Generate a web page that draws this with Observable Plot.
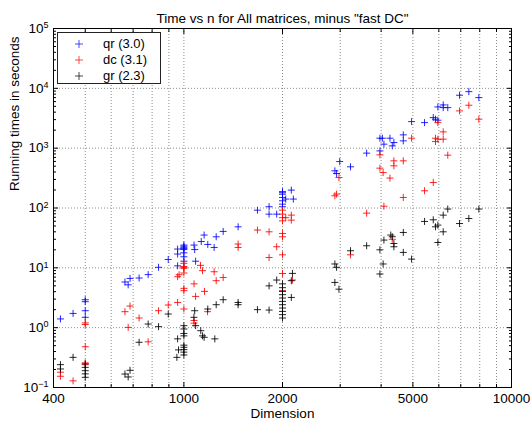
<!DOCTYPE html>
<html><head><meta charset="utf-8">
<script src="https://cdn.jsdelivr.net/npm/d3@7"></script>
<script src="https://cdn.jsdelivr.net/npm/@observablehq/plot@0.6"></script>
<style>
body{margin:0;background:#fff;}
#wrap{position:relative;width:530px;height:422px;font-family:"Liberation Sans",Arial,sans-serif;}
#legend{position:absolute;left:57px;top:32px;width:104px;height:52px;box-sizing:border-box;border:1px solid #222;background:#fff;font-size:13px;color:#000;}
.row{position:absolute;left:0;height:16px;line-height:16px;white-space:nowrap;}
.row svg{position:absolute;left:16px;top:3px;}
.row span{position:absolute;left:45px;top:0;}
</style></head><body><div id="wrap"></div><script>
const title = 'Time vs n for All matrices, minus "fast DC"';
const xLabel = "Dimension";
const yLabel = "Running times in seconds";
const xTicks = [400, 1000, 2000, 5000, 10000];
const xMinor = [500, 600, 700, 800, 900, 3000, 4000, 6000, 7000, 8000, 9000];
const xGrid = [500, 600, 700, 800, 900, 1000, 2000, 3000, 4000, 5000, 6000, 7000, 8000, 9000];
const yTicks = [0.1, 1, 10, 100, 1000, 10000, 100000];
const seriesNames = ["qr (3.0)", "dc (3.1)", "gr (2.3)"];
const seriesColors = ["#0000ff", "#ff0000", "#000000"];

const qrN = [420,459,500,500,500,500,661,676,685,730,778,837,896,957,957,957,
  1000,1000,1000,1000,1000,1000,1000,1000,1074,1079,1086,1130,1153,1183,1237,1255,
  1318,1464,1677,1820,1820,1920,2000,2000,2000,2000,2000,2000,2000,2046,2128,2158,
  2890,2925,2990,3226,3613,3966,3966,4035,4079,4256,4326,4375,4674,4674,4955,5428,
  5770,5862,5960,5960,6188,6188,6390,6940,7409,7950];
const qrT = [1.40,1.73,2.93,2.72,1.92,1.49,5.8,5.2,6.65,6.76,7.7,10.2,13.8,20.6,17,10.8,
  24,23,22,21,20.2,17.8,15.3,12.9,24,20.2,12.9,27.5,35.3,24.6,21.9,33,
  40.6,48.5,92,105,79,79,188,180,170,150,132,116,105,141,199,141,
  418,377,597,488,826,901,1468,1468,1166,1468,1092,1241,1668,1325,2780,2674,
  3243,3048,2930,4890,5280,4760,4760,7670,8810,7000];

const dcN = [420,420,459,500,500,500,500,500,661,685,676,730,778,837,896,957,957,967,
  1000,1000,1000,1000,1000,1000,1000,1000,1124,1140,1237,1255,1318,1074,1086,1156,1181,1074,1074,
  1464,1464,1677,1820,1920,1820,2000,2000,2000,2000,2000,2000,2000,2000,2000,
  2046,2128,2128,2145,2925,2974,2890,3226,3613,3966,3966,4057,4079,4256,4326,4375,4375,
  4674,4674,4955,5428,5770,5862,5862,5960,5960,6188,6188,6390,6940,7409,7950];
const dcT = [0.18,0.154,0.129,1.2,1.13,0.48,0.258,0.241,1.85,2.3,1.01,1.45,0.58,1.92,2.39,2.64,7.1,7.67,
  11.9,10.5,10.2,9.8,8.2,4.54,4.15,2.05,11,8.96,8.6,6.1,6.9,5.4,3.33,4.04,1.85,1.32,1.19,
  25,21.9,42.8,40,22.5,14.9,92,79,69,61,37.5,33,16.5,8.05,4.15,
  69,76,62.7,6.25,171,323,160,16.5,82,773,463,391,107,316,30,614,507,
  614,150,1468,194,267,1468,1290,2674,1413,1872,1413,764,4200,5220,3050];

const grN = [420,420,459,500,500,500,500,500,661,676,685,730,778,837,896,957,963,952,
  1000,1000,1000,1000,1000,1000,1000,1000,1000,1079,1073,1086,1183,1255,1126,1140,1153,1243,
  1318,1464,1464,1677,1820,1820,1920,2000,2000,2000,2000,2000,2000,2000,2000,2000,2000,2000,
  2145,2128,2128,2890,2890,2925,2974,3226,3613,3966,3966,4079,4057,4280,4326,4375,4375,
  4674,4674,4955,5428,5770,5862,5960,5960,6188,6188,6390,6940,7409,7950];
const grT = [0.241,0.204,0.319,0.248,0.217,0.191,0.169,0.148,0.168,0.15,0.194,0.57,1.15,1.04,1.69,0.65,0.425,0.319,
  1.08,0.95,0.80,0.73,0.51,0.47,0.43,0.39,0.35,1.92,1.49,1.08,2.05,2.42,0.89,0.73,0.69,0.65,
  2.93,2.64,2.42,2.0,1.97,5.0,6.25,5.4,4.66,4.04,3.56,3.13,2.75,2.42,2.13,1.87,1.65,1.45,
  8.07,6.1,3.2,11.6,5.7,10.2,4.4,19.3,23.4,20,7.9,29.1,11.6,35.3,33.1,25.5,22.5,
  39,18.1,14,59.6,63.5,48.5,51.8,26.5,76,40,96,55,66.8,96];

const seriesN = [qrN, dcN, grN];
const seriesT = [qrT, dcT, grT];
const rows = [];
seriesN.forEach((ns, s) => ns.forEach((n, i) => rows.push({series: seriesNames[s], n, t: seriesT[s][i]})));

const yMinor = [];
for (let e = -1; e < 5; e++) for (let k = 2; k <= 9; k++) yMinor.push(k * Math.pow(10, e));

const plus = {draw(ctx, size) {const r = Math.sqrt(size / Math.PI); ctx.moveTo(-r, 0); ctx.lineTo(r, 0); ctx.moveTo(0, -r); ctx.lineTo(0, r);}};
const blank = () => "";

const chart = Plot.plot({
  width: 530, height: 422,
  marginLeft: 53, marginRight: 19, marginTop: 28, marginBottom: 35,
  style: {fontFamily: '"Liberation Sans", Arial, sans-serif', fontSize: "13px", background: "#fff", color: "#000"},
  x: {type: "log", domain: [400, 10000]},
  y: {type: "log", domain: [0.1, 100000]},
  color: {domain: seriesNames, range: seriesColors},
  marks: [
    Plot.ruleX(xGrid, {stroke: "#8c8c8c", strokeDasharray: "1,2"}),
    Plot.ruleY(yTicks.slice(1, -1), {stroke: "#8c8c8c", strokeDasharray: "1,2"}),
    Plot.dot(rows, {x: "n", y: "t", stroke: "series", fill: "none", symbol: plus, r: 3.5, strokeWidth: 1, strokeOpacity: 0.85}),
    Plot.text(xTicks, {x: d => d, frameAnchor: "bottom", lineAnchor: "top", dy: 6, text: d => String(d), fontSize: 13.5}),
    Plot.axisX(xTicks, {anchor: "bottom", tickSize: -5, tickFormat: blank, label: null}),
    Plot.axisX(xMinor, {anchor: "bottom", tickSize: -3, tickFormat: blank, label: null}),
    Plot.axisX(xTicks, {anchor: "top", tickSize: -5, tickFormat: blank, label: null}),
    Plot.axisX(xMinor, {anchor: "top", tickSize: -3, tickFormat: blank, label: null}),
    Plot.axisY(yTicks, {anchor: "left", tickSize: 0, tickPadding: 5, tickFormat: d => "10^" + Math.round(Math.log10(d)), label: null, fontSize: 13.5}),
    Plot.axisY(yTicks, {anchor: "left", tickSize: -5, tickFormat: blank, label: null}),
    Plot.axisY(yMinor, {anchor: "left", tickSize: -3, tickFormat: blank, label: null}),
    Plot.axisY(yTicks, {anchor: "right", tickSize: -5, tickFormat: blank, label: null}),
    Plot.axisY(yMinor, {anchor: "right", tickSize: -3, tickFormat: blank, label: null}),
    Plot.frame({stroke: "#000"}),
    Plot.text([title], {frameAnchor: "top", dy: -15, fontSize: 13.5}),
    Plot.text([xLabel], {frameAnchor: "bottom", dy: 30, fontSize: 13.5}),
    Plot.text([yLabel], {frameAnchor: "left", dx: -39, dy: -17, rotate: -90, fontSize: 13.5})
  ]
});

chart.querySelectorAll("text").forEach(t => {
  const s = t.textContent;
  if (/^10\^-?\d+$/.test(s)) {
    const [b, e] = s.split("^");
    t.textContent = "";
    const ns = "http://www.w3.org/2000/svg";
    const t1 = document.createElementNS(ns, "tspan"); t1.textContent = b; t.appendChild(t1);
    const t2 = document.createElementNS(ns, "tspan"); t2.textContent = e.replace("-", "\u2212");
    t2.setAttribute("dy", "-0.5em"); t2.setAttribute("font-size", "9"); t.appendChild(t2);
  }
});

const wrap = document.getElementById("wrap");
wrap.appendChild(chart);
const legend = document.createElement("div");
legend.id = "legend";
seriesNames.forEach((name, i) => {
  const row = document.createElement("div");
  row.className = "row";
  row.style.top = (3 + i * 16) + "px";
  row.style.width = "100%";
  row.innerHTML = `<svg width="10" height="10"><path d="M1,5H9M5,1V9" stroke="${seriesColors[i]}" stroke-opacity="0.7" fill="none"/></svg><span>${name}</span>`;
  legend.appendChild(row);
});
wrap.appendChild(legend);
</script></body></html>
